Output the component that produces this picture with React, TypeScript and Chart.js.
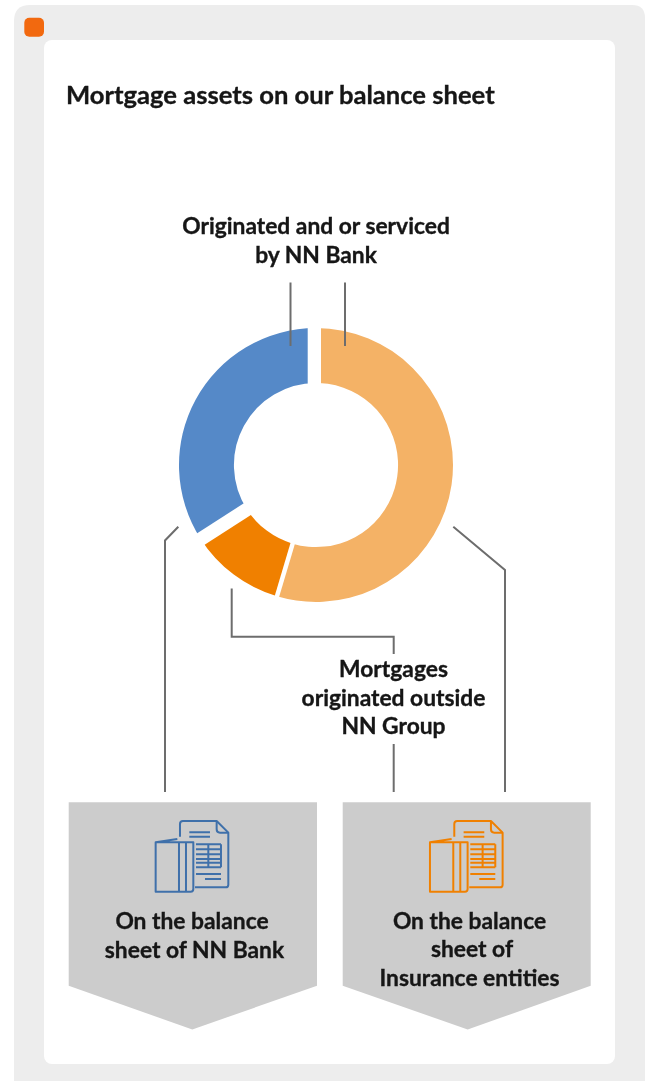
import React, { useEffect, useRef } from "react";
import { Chart, registerables } from "chart.js";

Chart.register(...registerables);

const categories = ["On the balance sheet of Insurance entities", "Mortgages originated outside NN Group", "Originated and or serviced by NN Bank"];
const shares = [54.6, 11.3, 34.1];
const sliceColors = ["#f4b266", "#f08000", "#5589c8"];
const gapWidths = [4.5, 13.7, 13.3];
const gapShifts = [0, 0, -1.65];

const FONT = "Lato, sans-serif";
const LINE = "#6d6d6d";

const title = "Mortgage assets on our balance sheet";
const labels: [string, number, number][] = [
  ["Originated and or serviced", 316, 224.5],
  ["by NN Bank", 316, 253.5],
  ["Mortgages", 393.5, 667.5],
  ["originated outside", 393.5, 696.5],
  ["NN Group", 393.5, 724.5],
  ["On the balance", 192, 919.5],
  ["sheet of NN Bank", 194.5, 948.5],
  ["On the balance", 469.5, 919.5],
  ["sheet of", 472, 947.5],
  ["Insurance entities", 469.5, 976.5],
];

const leaders = [
  "290.5,282.5 290.5,346",
  "345,282.5 345,346",
  "178.3,526.7 165,540.5 165,792",
  "453.3,526.7 505,570 505,792",
  "231.7,588.5 231.7,636.7 393.7,636.7 393.7,654",
  "393.7,744 393.7,792",
];

const gapPlugin = {
  id: "sliceGaps",
  afterDatasetsDraw(chart: any) {
    const ctx = chart.ctx;
    const arcs = chart.getDatasetMeta(0).data;
    ctx.save();
    ctx.strokeStyle = "#ffffff";
    arcs.forEach((arc: any, i: number) => {
      const a = arc.endAngle;
      const dx = Math.cos(a);
      const dy = Math.sin(a);
      const sx = arc.x - dy * gapShifts[i];
      const sy = arc.y + dx * gapShifts[i];
      ctx.lineWidth = gapWidths[i];
      ctx.beginPath();
      ctx.moveTo(sx + dx * (arc.innerRadius - 3), sy + dy * (arc.innerRadius - 3));
      ctx.lineTo(sx + dx * (arc.outerRadius + 4), sy + dy * (arc.outerRadius + 4));
      ctx.stroke();
    });
    ctx.restore();
  },
};

function Icon({ x, color }: { x: number; color: string }) {
  return (
    <g transform={`translate(${x},790) scale(0.3333)`} fill="none" stroke={color} strokeWidth={6} strokeLinejoin="round">
      <path d="M352 147 L287 157 V305 H392 Q400 305 400 297 V157 H287" />
      <path d="M357 157 V305 M378 157 V305" />
      <path d="M360 140 V102 Q360 93 369 93 H470 L505 128 V284 Q505 292 497 292 H405" />
      <path d="M470 93 V118 Q470 128 480 128 H505" />
      <path d="M388 127 H450 M388 140 H450" />
      <path d="M408 163 H483 M408 178 H483 M408 193 H483 M408 207 H483 M408 218 H483 M408 232 H483 M445 163 V232 M483 163 V232" />
      <path d="M408 252 H483 M435 267 H483" />
    </g>
  );
}

export default function App() {
  const ref = useRef<HTMLCanvasElement>(null);
  useEffect(() => {
    const chart = new Chart(ref.current!, {
      type: "doughnut",
      data: {
        labels: categories,
        datasets: [{ data: shares, backgroundColor: sliceColors, borderWidth: 0 }],
      },
      options: {
        responsive: false,
        animation: false,
        cutout: "59.9%",
        layout: { padding: 13 },
        plugins: { legend: { display: false }, tooltip: { enabled: false } },
      },
      plugins: [gapPlugin],
    });
    return () => chart.destroy();
  }, []);

  const textStyle: React.CSSProperties = {
    position: "absolute",
    transform: "translate(-50%,-50%)",
    whiteSpace: "nowrap",
    fontFamily: FONT,
    fontWeight: 700,
    fontSize: 22.8,
    lineHeight: "28px",
    color: "#161616",
    WebkitTextStroke: "0.35px #161616",
  };

  return (
    <div style={{ position: "absolute", left: 0, top: 0, width: 645, height: 1081, overflow: "hidden", background: "#fff" }}>
      <svg width={645} height={1081} style={{ position: "absolute", left: 0, top: 0 }}>
        <path d="M14 1081 V21 Q14 5 30 5 H632 Q645 5 645 18 V1081 Z" fill="#ededed" />
        <rect x={24.3} y={17.7} width={19.7} height={19} rx={5} fill="#f2690f" />
        <rect x={44} y={40} width={571} height={1024} rx={8} fill="#ffffff" />
        <polygon points="68.7,802.3 317,802.3 317,985.7 192.3,1029.5 68.7,985.7" fill="#cccccc" />
        <polygon points="342.7,802.3 590.7,802.3 590.7,985.7 467.7,1029.5 342.7,985.7" fill="#cccccc" />
        <Icon x={60} color="#3f70aa" />
        <Icon x={334.3} color="#f08000" />
      </svg>
      <canvas ref={ref} width={300} height={300} style={{ position: "absolute", left: 166, top: 314.5, width: 300, height: 300 }} />
      <svg width={645} height={1081} style={{ position: "absolute", left: 0, top: 0 }}>
        {leaders.map((p) => (
          <polyline key={p} points={p} fill="none" stroke={LINE} strokeWidth={2} />
        ))}
      </svg>
      <div style={{ ...textStyle, transform: "translateY(-50%)", left: 66, top: 93.5, fontSize: 25.6 }}>{title}</div>
      {labels.map(([t, x, y], i) => (
        <div key={i} style={{ ...textStyle, left: x, top: y }}>{t}</div>
      ))}
    </div>
  );
}
